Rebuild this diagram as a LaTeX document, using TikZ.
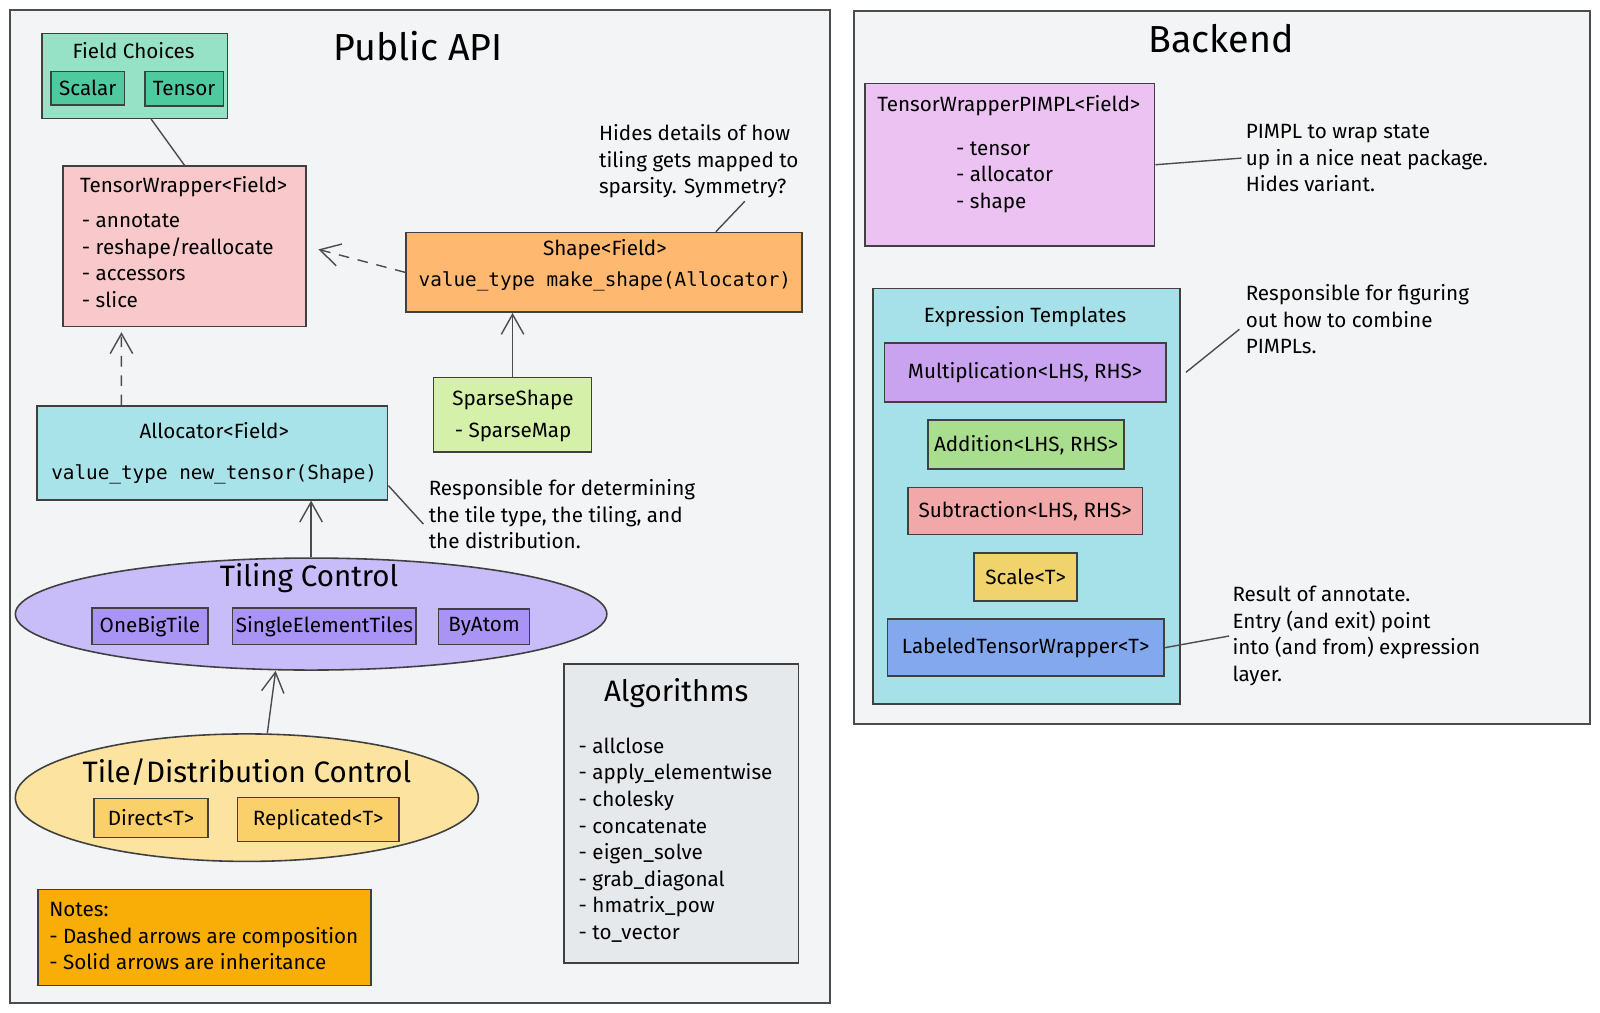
\documentclass[tikz,border=0pt]{standalone}
\usepackage{fontspec}
\setmainfont{Fira Sans}
\setmonofont{DejaVu Sans Mono}
\usetikzlibrary{shapes,fit,positioning,arrows.meta,calc}
\definecolor{panelgray}{HTML}{F3F4F5}
\definecolor{fcgreen}{HTML}{96E2C6}
\definecolor{fcdark}{HTML}{4FC9A0}
\definecolor{twred}{HTML}{F8C8CA}
\definecolor{shapeorange}{HTML}{FFB870}
\definecolor{alloccyan}{HTML}{A9E3EA}
\definecolor{sparsegreen}{HTML}{D5F0A8}
\definecolor{tilingviolet}{HTML}{C8BCF9}
\definecolor{tiledark}{HTML}{A993F5}
\definecolor{tdyellow}{HTML}{FCE3A0}
\definecolor{tddark}{HTML}{FAD06A}
\definecolor{notesorange}{HTML}{F8AE06}
\definecolor{algogray}{HTML}{E6E9EC}
\definecolor{pimplpurple}{HTML}{EBC2F2}
\definecolor{exprcyan}{HTML}{A6E0E8}
\definecolor{multpurple}{HTML}{C9A3F0}
\definecolor{addgreen}{HTML}{A9DE8E}
\definecolor{subred}{HTML}{F2A8A8}
\definecolor{scaleyellow}{HTML}{F1D36D}
\definecolor{labblue}{HTML}{84A8EE}
\tikzset{panel/.style={rectangle,draw=black!70,fill=panelgray,line width=1pt,inner sep=0pt},
classbox/.style={rectangle,draw=black!75,line width=0.9pt,inner sep=0pt},
blob/.style={ellipse,draw=black!75,line width=0.9pt,inner sep=0pt},
txt/.style={inner sep=0pt,font=\fontsize{11.75}{15.1}\selectfont},
lst/.style={txt,align=left,anchor=west},
codeline/.style={inner sep=0pt,font=\ttfamily\fontsize{11}{13}\selectfont},
blobtitle/.style={inner sep=0pt,font=\fontsize{16.8}{20}\selectfont},
paneltitle/.style={inner sep=0pt,font=\fontsize{21.4}{25}\selectfont},
link/.style={draw=black!70,line width=0.8pt},
dashlink/.style={link,dash pattern=on 6pt off 5pt},
>={Straight Barb[length=4mm,width=4.5mm]}}
\newcommand{\boxfit}[4]{
\node (#1) [classbox,fit={#2 #3},#4] {};
}

\begin{document}
\begin{tikzpicture}[x=0.0204cm,y=-0.0204cm]
  \useasboundingbox (0,0) rectangle (1568.6,992.2);

  % panels
  \node (public) [panel,fit={(10,10) (814,983)}] {};
  \node (backend) [panel,fit={(837,11) (1559,710)}] {};
  \node (publictitle) [paneltitle] at (410,45) {Public API};
  \node (backendtitle) [paneltitle] at (1197,38) {Backend};

  % public API
  \boxfit{fc}{(41,33)}{(223,116)}{fill=fcgreen}
  \node (fctitle) [txt] at (131,50) {Field Choices};
  \boxfit{scalar}{(50,70)}{(122,103)}{fill=fcdark}
  \boxfit{tensor}{(142,70)}{(219,104)}{fill=fcdark}
  \node (scalartxt) [txt] at (scalar) {Scalar};
  \node (tensortxt) [txt] at (tensor) {Tensor};

  \boxfit{tw}{(62,163)}{(300,320)}{fill=twred}
  \node (twtitle) [txt] at (180,183) {TensorWrapper<Field>};
  \node (twlist) [lst] at (80,255.5) {- annotate\\- reshape/reallocate\\- accessors\\- slice};

  \boxfit{shape}{(398,228)}{(786,306)}{fill=shapeorange}
  \node (shapetitle) [txt] at (593,245) {Shape<Field>};
  \node (shapecode) [codeline] at (593,276) {value\_type make\_shape(Allocator)};
  \node (hides) [lst] at (587,158) {Hides details of how\\tiling gets mapped to\\sparsity. Symmetry?};

  \boxfit{sparse}{(425,370)}{(580,443)}{fill=sparsegreen}
  \node (sparsetitle) [txt] at (503,392) {SparseShape};
  \node (sparseitem) [txt] at (503,424) {- SparseMap};

  \boxfit{alloc}{(36,398)}{(380,490)}{fill=alloccyan}
  \node (alloctitle) [txt] at (210,422) {Allocator<Field>};
  \node (alloccode) [codeline] at (210,465) {value\_type new\_tensor(Shape)};
  \node (respon) [lst] at (420,504) {Responsible for determining\\the tile type, the tiling, and\\the distribution.};

  \node (tiling) [blob,fill=tilingviolet,minimum width=11.83cm,minimum height=2.24cm] at (305,602) {};
  \node (tilingtitle) [blobtitle] at (303,567) {Tiling Control};
  \boxfit{onebig}{(90,596)}{(204,632)}{fill=tiledark}
  \boxfit{single}{(228,596)}{(408,632)}{fill=tiledark}
  \boxfit{byatom}{(430,597)}{(519,632)}{fill=tiledark}
  \node (onebigtxt) [txt] at (onebig) {OneBigTile};
  \node (singletxt) [txt] at (single) {SingleElementTiles};
  \node (byatomtxt) [txt] at (byatom) {ByAtom};

  \node (tiledist) [blob,fill=tdyellow,minimum width=9.26cm,minimum height=2.55cm] at (242,782) {};
  \node (tiledisttitle) [blobtitle] at (242,757) {Tile/Distribution Control};
  \boxfit{direct}{(92,783)}{(204,821)}{fill=tddark}
  \boxfit{replicated}{(233,782)}{(391,825)}{fill=tddark}
  \node (directtxt) [txt] at (direct) {Direct<T>};
  \node (replicatedtxt) [txt] at (replicated) {Replicated<T>};

  \boxfit{notes}{(37,872)}{(364,966)}{fill=notesorange}
  \node (notestxt) [lst] at (48,918) {Notes:\\- Dashed arrows are composition\\- Solid arrows are inheritance};

  \boxfit{algo}{(553,651)}{(783,944)}{fill=algogray}
  \node (algotitle) [blobtitle] at (663,680) {Algorithms};
  \node (algolist) [lst] at (567,823.5) {- allclose\\- apply\_elementwise\\- cholesky\\- concatenate\\- eigen\_solve\\- grab\_diagonal\\- hmatrix\_pow\\- to\_vector};

  % backend
  \boxfit{pimpl}{(848,82)}{(1132,241)}{fill=pimplpurple}
  \node (pimpltitle) [txt] at (989,104) {TensorWrapperPIMPL<Field>};
  \node (pimpllist) [lst] at (937,173.5) {- tensor\\- allocator\\- shape};
  \node (wrapnote) [lst] at (1221,155) {PIMPL to wrap state\\up in a nice neat package.\\Hides variant.};

  \boxfit{expr}{(856,283)}{(1157,690)}{fill=exprcyan}
  \node (exprtitle) [txt] at (1005,310) {Expression Templates};
  \boxfit{mult}{(867,336)}{(1143,394)}{fill=multpurple}
  \boxfit{add}{(910,412)}{(1102,460)}{fill=addgreen}
  \boxfit{sub}{(890,478)}{(1120,524)}{fill=subred}
  \boxfit{scale}{(955,542)}{(1056,589)}{fill=scaleyellow}
  \boxfit{labeled}{(870,607)}{(1141,663)}{fill=labblue}
  \node (multtxt) [txt] at (mult) {Multiplication<LHS, RHS>};
  \node (addtxt) [txt] at (add) {Addition<LHS, RHS>};
  \node (subtxt) [txt] at (sub) {Subtraction<LHS, RHS>};
  \node (scaletxt) [txt] at (scale) {Scale<T>};
  \node (labeledtxt) [txt] at (labeled) {LabeledTensorWrapper<T>};
  \node (figure) [lst] at (1221,313) {Responsible for figuring\\out how to combine\\PIMPLs.};
  \node (result) [lst] at (1208,623.5) {Result of annotate.\\Entry (and exit) point\\into (and from) expression\\layer.};

  % connectors
  \draw [link] ([xshift=0.33cm]fc.south) -- (tw.north);
  \draw [dashlink,->,shorten >=0.24cm] (shape.west) -- (tw.east);
  \draw [link,->] (sparse.north) -- (sparse.north |- shape.south);
  \draw [dashlink,->,shorten >=0.1cm] ([xshift=1.71cm]alloc.north west) -- ([xshift=1.18cm]tw.south west);
  \draw [link,->] (tiling.north) -- (tiling.north |- alloc.south);
  \draw [link,->] ([xshift=0.41cm]tiledist.north) -- ([xshift=-0.71cm]tiling.south);
  \draw [link] ([xshift=0.92cm,yshift=-0.06cm]hides.south) -- ([xshift=2.24cm]shape.north);
  \draw [link] ([yshift=0.3cm]alloc.south east) -- ([shift={(-0.1cm,-0.2cm)}]respon.west);
  \draw [link] (pimpl.east) -- ([xshift=-0.08cm]wrapnote.west);
  \draw [link] ([xshift=0.1cm]expr.east |- mult.east) -- ([shift={(-0.12cm,-0.2cm)}]figure.west);
  \draw [link] (labeled.east) -- ([xshift=-0.06cm]result.west);
\end{tikzpicture}
\end{document}
